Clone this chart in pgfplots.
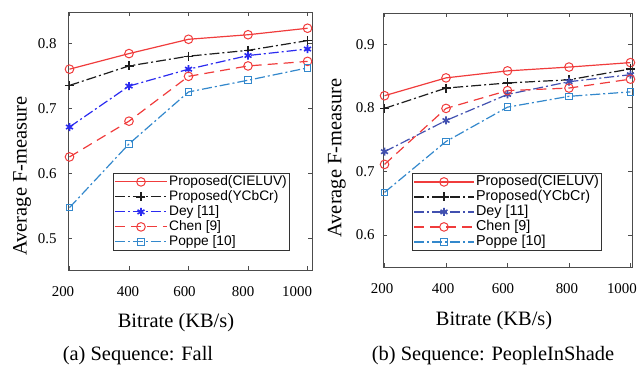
\documentclass[border=0pt]{standalone}
\usepackage{fontspec}
\setmainfont{Liberation Serif}
\newfontfamily\legfont{Liberation Sans}
\usepackage{pgfplots}
\pgfplotsset{compat=1.18}
\definecolor{cred}{HTML}{F03C3C}
\definecolor{cblk}{HTML}{1E1E1E}
\definecolor{cblueA}{HTML}{2B2BF0}
\definecolor{cblueB}{HTML}{4150B0}
\definecolor{cpop}{HTML}{3388CC}
\pgfplotsset{
  mystyle/.style={
    scale only axis,
    axis line style={draw=black!70, line width=0.8bp},
    every tick/.style={draw=black!70, line width=0.6bp},
    major tick length=4bp,
    tick align=inside,
    xtick={200,400,600,800,1000},
    ticklabel style={font=\fontsize{15}{15}\selectfont},
    every x tick label/.append style={yshift=-13bp},
    /pgf/number format/assume math mode=true,
    /pgf/number format/1000 sep={},
    label style={font=\fontsize{20.5}{22}\selectfont},
    legend cell align=left,
  },
  sCIE/.style={color=cred, solid, line width=1.2bp, mark=o, mark size=4.3bp, mark options={solid, line width=1bp}},
  sYCC/.style={color=cblk, line width=1.2bp, dash pattern=on 10bp off 3bp on 2bp off 3bp, mark=+, mark size=4.5bp, mark options={solid, line width=1.3bp}},
  sDey/.style={color=#1, line width=1.2bp, dash pattern=on 10bp off 3bp on 2bp off 3bp, mark=asterisk, mark size=4bp, mark options={solid, line width=1.6bp}},
  sChen/.style={color=cred, line width=1.2bp, dash pattern=on 10bp off 6bp, mark=o, mark size=4.3bp, mark options={solid, line width=1bp}},
  sPop/.style={color=cpop, line width=1.2bp, dash pattern=on 10bp off 3bp on 2bp off 3bp, mark=square, mark size=3.3bp, mark options={solid, line width=1bp}},
}
\begin{document}
\begin{tikzpicture}
\useasboundingbox (0,0) rectangle (638bp,365bp);
% ---------------- left panel ----------------
\begin{axis}[mystyle,
  at={(68bp,95bp)}, anchor=south west,
  width=244bp, height=258bp,
  xmin=195, xmax=1015, ymin=0.451, ymax=0.848,
  ytick={0.5,0.6,0.7,0.8},
  every y tick label/.append style={xshift=-8bp},
  xticklabels={{\kern-13bp 200},{\kern-2bp 400},{\kern-8bp 600},{\kern-10bp 800},{\kern-21bp 1000}},
  xlabel={Bitrate (KB/s)},
  xlabel style={at={(axis description cs:0.4426,-0.221)}, anchor=base},
  ylabel={Average F-measure},
  ylabel style={at={(axis description cs:-0.1885,0.364)}, anchor=center},
  legend style={at={(axis description cs:0.1844,0.376)}, anchor=north west,
    draw=black!80, line width=0.8bp, inner sep=1bp, row sep=0pt,
    font=\legfont\fontsize{13.8}{15}\selectfont,
    nodes={inner sep=1.5bp, text height=9.5bp, text depth=2.5bp}},
  legend image code/.code={\draw[mark repeat=2,mark phase=2,#1] plot coordinates {(0bp,0bp) (26bp,0bp) (52bp,0bp)};},
]
\addplot[sCIE] coordinates {(200,0.760) (400,0.784) (600,0.806) (800,0.813) (1000,0.823)};
\addlegendentry{Proposed(CIELUV)}
\addplot[sYCC] coordinates {(200,0.735) (400,0.765) (600,0.780) (800,0.789) (1000,0.804)};
\addlegendentry{Proposed(YCbCr)}
\addplot[sDey=cblueA] coordinates {(200,0.671) (400,0.734) (600,0.760) (800,0.781) (1000,0.791)};
\addlegendentry{Dey [11]}
\addplot[sChen] coordinates {(200,0.625) (400,0.680) (600,0.749) (800,0.765) (1000,0.772)};
\addlegendentry{Chen [9]}
\addplot[sPop] coordinates {(200,0.547) (400,0.645) (600,0.725) (800,0.743) (1000,0.762)};
\addlegendentry{Poppe [10]}
\end{axis}
% ---------------- right panel ----------------
\begin{axis}[mystyle,
  at={(383bp,98bp)}, anchor=south west,
  width=249bp, height=254bp,
  xmin=195, xmax=1005, ymin=0.5497, ymax=0.949,
  ytick={0.6,0.7,0.8,0.9},
  every y tick label/.append style={xshift=-5bp},
  xticklabels={{\kern-5bp 200},{\kern-6bp 400},{\kern-9bp 600},{\kern-4bp 800},{\kern-17bp 1000}},
  xlabel={Bitrate (KB/s)},
  xlabel style={at={(axis description cs:0.446,-0.232)}, anchor=base},
  ylabel={Average F-measure},
  ylabel style={at={(axis description cs:-0.185,0.429)}, anchor=center},
  legend style={at={(axis description cs:0.1165,0.370)}, anchor=north west,
    draw=black!80, line width=0.8bp, inner sep=1bp, row sep=0pt,
    font=\legfont\fontsize{14.4}{15}\selectfont,
    nodes={inner sep=1.5bp, text height=9.5bp, text depth=2.5bp}},
  legend image code/.code={\draw[mark repeat=2,mark phase=2,#1] plot coordinates {(0bp,0bp) (30bp,0bp) (60bp,0bp)};},
]
\addplot[sCIE] coordinates {(200,0.819) (400,0.847) (600,0.858) (800,0.864) (1000,0.871)};
\addlegendentry{Proposed(CIELUV)}
\addplot[sYCC] coordinates {(200,0.799) (400,0.831) (600,0.839) (800,0.844) (1000,0.861)};
\addlegendentry{Proposed(YCbCr)}
\addplot[sDey=cblueB] coordinates {(200,0.731) (400,0.780) (600,0.821) (800,0.841) (1000,0.852)};
\addlegendentry{Dey [11]}
\addplot[sChen] coordinates {(200,0.711) (400,0.799) (600,0.827) (800,0.831) (1000,0.845)};
\addlegendentry{Chen [9]}
\addplot[sPop] coordinates {(200,0.667) (400,0.747) (600,0.801) (800,0.818) (1000,0.825)};
\addlegendentry{Poppe [10]}
\end{axis}
% captions
\node[anchor=base, font=\fontsize{20.5}{22}\selectfont] at (138bp,5bp) {(a) Sequence: Fall};
\node[anchor=base, font=\fontsize{20.5}{22}\selectfont] at (493bp,5bp) {(b) Sequence: PeopleInShade};
\end{tikzpicture}
\end{document}
